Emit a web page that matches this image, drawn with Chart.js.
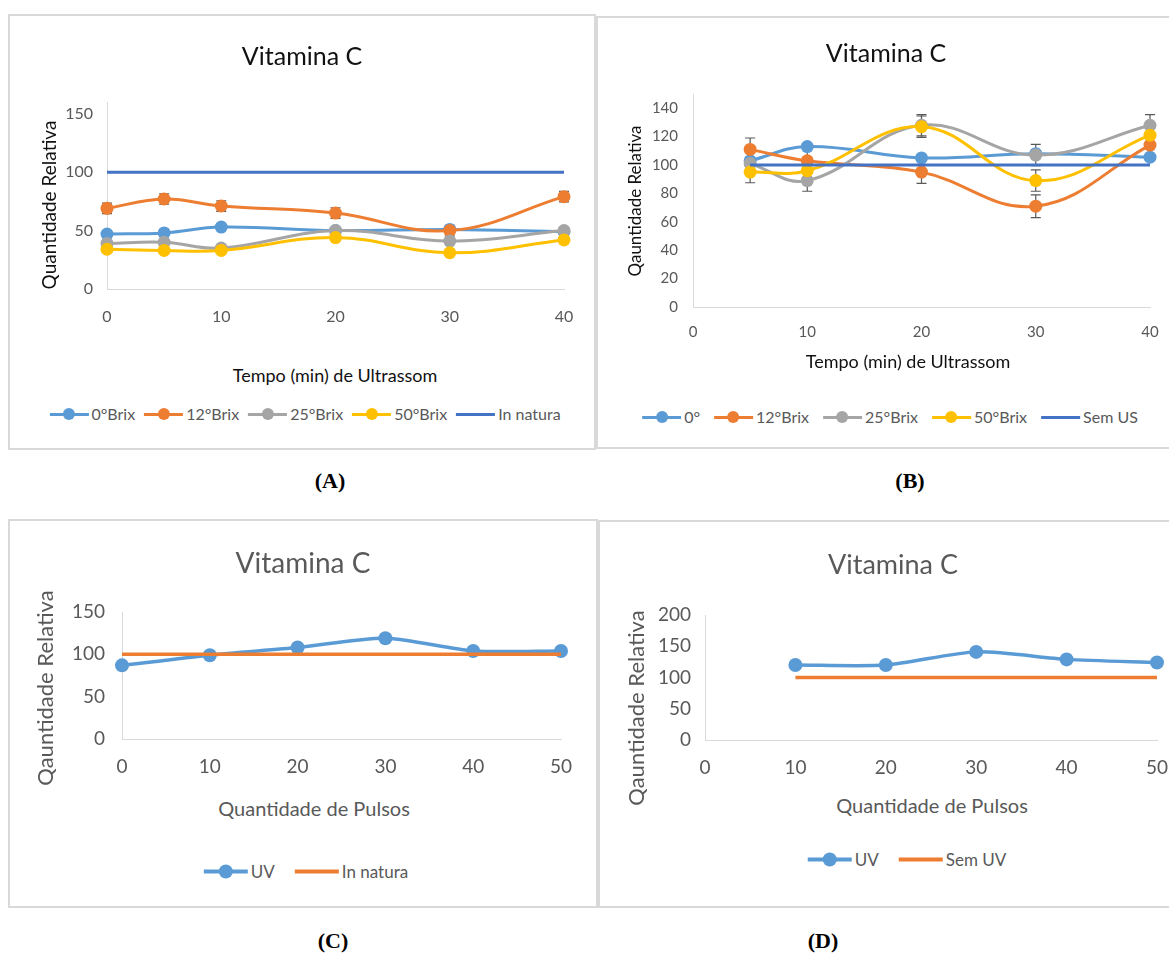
<!DOCTYPE html>
<html lang="pt">
<head>
<meta charset="utf-8">
<title>Vitamina C</title>
<script src="https://cdn.jsdelivr.net/npm/chart.js@4.4.1/dist/chart.umd.min.js"></script>
<style>
  html, body { margin: 0; padding: 0; background: #fff; width: 1169px; height: 954px; overflow: hidden; }
  body { position: relative; }
  .frame { position: absolute; border: 2px solid #d9d9d9; box-sizing: border-box; background: #fff; }
  canvas { position: absolute; }
  .t { position: absolute; white-space: nowrap; font-family: Lato, "Open Sans", sans-serif; transform: translate(-50%, -50%); line-height: 1; }
  .v { transform: translate(-50%, -50%) rotate(-90deg); }
  .legend { position: absolute; display: flex; align-items: center; transform: translate(-50%, -50%);
            white-space: nowrap; font-family: Lato, "Open Sans", sans-serif; color: #595959; line-height: 1; }
  .item { display: flex; align-items: center; margin: 0 5px; }
  .mk { position: relative; margin-right: 3px; }
  .mk .ln { position: absolute; left: 0; right: 0; top: 50%; }
  .mk .dt { position: absolute; left: 50%; top: 50%; border-radius: 50%; }
  .lab { position: absolute; font-family: "Liberation Serif", "Times New Roman", serif; font-weight: bold;
         font-size: 22px; transform: translate(-50%, -50%); line-height: 1; color: #000; }
</style>
</head>
<body>
<div class="frame" style="left:8px;top:14px;width:588px;height:436px;"></div>
<div class="frame" style="left:596px;top:16px;width:580px;height:433px;"></div>
<div class="frame" style="left:8px;top:519px;width:590px;height:389px;"></div>
<div class="frame" style="left:598px;top:520px;width:580px;height:388px;"></div>

<canvas id="chartA"></canvas>
<canvas id="chartB"></canvas>
<canvas id="chartC"></canvas>
<canvas id="chartD"></canvas>

<!-- (A) -->
<div class="t" style="left:302px;top:55px;font-size:25px;color:#111;">Vitamina C</div>
<div class="t v" style="left:48px;top:205px;font-size:19px;color:#111;">Quantidade Relativa</div>
<div class="t" style="left:335px;top:375px;font-size:18px;color:#111;">Tempo (min) de Ultrassom</div>
<div class="legend" id="legA" style="left:305px;top:414px;font-size:16px;"></div>
<div class="lab" style="left:330px;top:481px;">(A)</div>

<!-- (B) -->
<div class="t" style="left:886px;top:52px;font-size:25px;color:#111;">Vitamina C</div>
<div class="t v" style="left:634px;top:201px;font-size:17px;color:#111;">Qauntidade Relativa</div>
<div class="t" style="left:908px;top:361px;font-size:18px;color:#111;">Tempo (min) de Ultrassom</div>
<div class="legend" id="legB" style="left:890px;top:417px;font-size:16px;"></div>
<div class="lab" style="left:910px;top:481px;">(B)</div>

<!-- (C) -->
<div class="t" style="left:303px;top:562px;font-size:28px;color:#595959;">Vitamina C</div>
<div class="t v" style="left:45px;top:688px;font-size:22px;color:#595959;">Qauntidade Relativa</div>
<div class="t" style="left:314px;top:808px;font-size:20px;color:#595959;">Quantidade de Pulsos</div>
<div class="legend" id="legC" style="left:306px;top:871px;font-size:17px;"></div>
<div class="lab" style="left:333px;top:941px;">(C)</div>

<!-- (D) -->
<div class="t" style="left:893px;top:563px;font-size:27px;color:#595959;">Vitamina C</div>
<div class="t v" style="left:636px;top:708px;font-size:22px;color:#595959;">Qauntidade Relativa</div>
<div class="t" style="left:932px;top:805px;font-size:20px;color:#595959;">Quantidade de Pulsos</div>
<div class="legend" id="legD" style="left:907px;top:859px;font-size:17px;"></div>
<div class="lab" style="left:823px;top:941px;">(D)</div>

<script>
// ---- (A) tempo de ultrassom, amostras por °Brix ----
const tempoA   = [0, 5, 10, 20, 30, 40];
const brix0A   = [47, 48, 53, 50, 51, 49];
const brix12A  = [69, 77, 71, 65, 50, 79];
const brix25A  = [39, 40, 35, 50, 41, 50];
const brix50A  = [34, 33, 33, 44, 31, 42];
const naturaA  = [100, 100, 100, 100, 100, 100];
const erro0A   = [2, 2, 2, 2, 2, 2];
const erro12A  = [4.5, 4.5, 4.5, 4.5, 4.5, 4.5];
const erro25A  = [2, 2, 2, 2, 2, 2];
const erro50A  = [2, 2, 2, 2, 2, 2];
const xTicksA  = [0, 10, 20, 30, 40];
const yTicksA  = [0, 50, 100, 150];

// ---- (B) tempo de ultrassom ----
const tempoB   = [5, 10, 20, 30, 40];
const brix0B   = [103, 113, 105, 108, 105.5];
const brix12B  = [111, 103, 95, 71, 114];
const brix25B  = [101, 89, 128, 107, 128];
const brix50B  = [95, 96, 127, 89, 121];
const semUS    = [100, 100, 100, 100, 100];
const erro12B  = [8, 8, 8, 8, 8];
const erro25B  = [7.5, 7.5, 7.5, 7.5, 7.5];
const erro50B  = [7.5, 7.5, 7.5, 7.5, 7.5];
const xTicksB  = [0, 10, 20, 30, 40];
const yTicksB  = [0, 20, 40, 60, 80, 100, 120, 140];

// ---- (C) quantidade de pulsos ----
const pulsosC  = [0, 10, 20, 30, 40, 50];
const uvC      = [87, 99, 108, 119, 104, 104];
const naturaC  = [100, 100, 100, 100, 100, 100];
const xTicksC  = [0, 10, 20, 30, 40, 50];
const yTicksC  = [0, 50, 100, 150];

// ---- (D) quantidade de pulsos ----
const pulsosD  = [10, 20, 30, 40, 50];
const uvD      = [120, 120, 141, 129, 124];
const semUV    = [100, 100, 100, 100, 100];
const xTicksD  = [0, 10, 20, 30, 40, 50];
const yTicksD  = [0, 50, 100, 150, 200];

const AZUL = '#5B9BD5', LARANJA = '#ED7D31', CINZA = '#A5A5A5', AMARELO = '#FFC000', AZUL_ESC = '#4472C4';
const FONTE = 'Lato, "Open Sans", sans-serif';

Chart.defaults.font.family = FONTE;

const pts = (xs, ys) => xs.map((x, i) => ({ x: x, y: ys[i] }));

// vertical error bars with caps, drawn underneath the series
const errorBars = {
  id: 'errorBars',
  beforeDatasetsDraw(chart) {
    const { ctx, scales: { x, y } } = chart;
    chart.data.datasets.forEach((ds, i) => {
      if (!ds.errors || !chart.isDatasetVisible(i)) return;
      ctx.save();
      ctx.strokeStyle = '#595959';
      ctx.lineWidth = 1.2;
      ds.data.forEach((p, j) => {
        const e = ds.errors[j];
        if (!e) return;
        const px = x.getPixelForValue(p.x);
        const top = y.getPixelForValue(p.y + e);
        const bot = y.getPixelForValue(p.y - e);
        ctx.beginPath();
        ctx.moveTo(px, top); ctx.lineTo(px, bot);
        ctx.moveTo(px - 5, top); ctx.lineTo(px + 5, top);
        ctx.moveTo(px - 5, bot); ctx.lineTo(px + 5, bot);
        ctx.stroke();
      });
      ctx.restore();
    });
  }
};

function serie(label, xs, ys, color, opts) {
  return Object.assign({
    label: label,
    data: pts(xs, ys),
    borderColor: color,
    backgroundColor: color,
    pointBackgroundColor: color,
    pointBorderColor: color,
    borderWidth: 3,
    pointRadius: 6.5,
    pointBorderWidth: 0,
    tension: 0.4,
    fill: false,
    clip: false
  }, opts || {});
}

// builds one panel; the plot area lands at [left,top]-[right,bottom] on the page
function painel(id, area, cfg) {
  const YW = 50, XH = 50, PL = 10, PT = 40, PR = 45;
  const canvas = document.getElementById(id);
  const left = area.left - YW - PL, top = area.top - PT;
  const w = area.right + PR - left, h = area.bottom + XH - top;
  canvas.width = w; canvas.height = h;
  canvas.style.left = left + 'px'; canvas.style.top = top + 'px';
  canvas.style.width = w + 'px'; canvas.style.height = h + 'px';

  const tickOpts = (size, pad) => ({
    color: '#595959', font: { family: FONTE, size: size }, padding: pad,
    autoSkip: false, maxRotation: 0, minRotation: 0
  });
  const border = { display: true, color: '#d9d9d9', width: 1 };

  return new Chart(canvas, {
    type: 'line',
    data: { datasets: cfg.datasets },
    options: {
      responsive: false,
      animation: false,
      events: [],
      layout: { padding: { left: PL, top: PT, right: PR, bottom: 0 } },
      plugins: { legend: { display: false }, title: { display: false }, tooltip: { enabled: false } },
      scales: {
        x: {
          type: 'linear', min: cfg.xMin, max: cfg.xMax,
          afterBuildTicks: s => { s.ticks = cfg.xTicks.map(v => ({ value: v })); },
          afterFit: s => { s.height = XH; },
          grid: { display: false, drawTicks: false },
          border: border,
          ticks: tickOpts(cfg.tickSize, cfg.xPad)
        },
        y: {
          type: 'linear', min: cfg.yMin, max: cfg.yMax,
          afterBuildTicks: s => { s.ticks = cfg.yTicks.map(v => ({ value: v })); },
          afterFit: s => { s.width = YW; },
          grid: { display: false, drawTicks: false },
          border: border,
          ticks: tickOpts(cfg.tickSize, cfg.yPad)
        }
      }
    },
    plugins: [errorBars]
  });
}

painel('chartA', { left: 107, top: 102, right: 564, bottom: 289 }, {
  xMin: 0, xMax: 40, yMin: 0, yMax: 160, xTicks: xTicksA, yTicks: yTicksA,
  tickSize: 16, xPad: 18, yPad: 14,
  datasets: [
    serie('0°Brix', tempoA, brix0A, AZUL, { errors: erro0A, order: 5 }),
    serie('12°Brix', tempoA, brix12A, LARANJA, { errors: erro12A, order: 4 }),
    serie('25°Brix', tempoA, brix25A, CINZA, { errors: erro25A, order: 3 }),
    serie('50°Brix', tempoA, brix50A, AMARELO, { errors: erro50A, order: 2 }),
    serie('In natura', tempoA, naturaA, AZUL_ESC, { pointRadius: 0, tension: 0, order: 1 })
  ]
});

painel('chartB', { left: 693, top: 94, right: 1150, bottom: 307 }, {
  xMin: 0, xMax: 40, yMin: 0, yMax: 150, xTicks: xTicksB, yTicks: yTicksB,
  tickSize: 15, xPad: 16, yPad: 15,
  datasets: [
    serie('0°', tempoB, brix0B, AZUL, { order: 5 }),
    serie('12°Brix', tempoB, brix12B, LARANJA, { errors: erro12B, order: 4 }),
    serie('25°Brix', tempoB, brix25B, CINZA, { errors: erro25B, order: 3 }),
    serie('50°Brix', tempoB, brix50B, AMARELO, { errors: erro50B, order: 2 }),
    serie('Sem US', tempoB, semUS, AZUL_ESC, { pointRadius: 0, tension: 0, order: 1 })
  ]
});

painel('chartC', { left: 122, top: 612, right: 561, bottom: 739 }, {
  xMin: 0, xMax: 50, yMin: 0, yMax: 150, xTicks: xTicksC, yTicks: yTicksC,
  tickSize: 19, xPad: 16, yPad: 17,
  datasets: [
    serie('UV', pulsosC, uvC, AZUL, { borderWidth: 3.5, pointRadius: 7, tension: 0.25, order: 2 }),
    serie('In natura', pulsosC, naturaC, LARANJA, { borderWidth: 3.5, pointRadius: 0, tension: 0, order: 1 })
  ]
});

painel('chartD', { left: 705, top: 615, right: 1157, bottom: 740 }, {
  xMin: 0, xMax: 50, yMin: 0, yMax: 200, xTicks: xTicksD, yTicks: yTicksD,
  tickSize: 19, xPad: 16, yPad: 14,
  datasets: [
    serie('UV', pulsosD, uvD, AZUL, { borderWidth: 3.5, pointRadius: 7, tension: 0.25, order: 2 }),
    serie('Sem UV', pulsosD, semUV, LARANJA, { borderWidth: 3.5, pointRadius: 0, tension: 0, order: 1 })
  ]
});

// HTML legends: line marker, with a dot for series that carry markers
function legenda(id, itens, m) {
  const box = document.getElementById(id);
  itens.forEach(([texto, cor, ponto]) => {
    const it = document.createElement('div');
    it.className = 'item';
    it.style.margin = '0 ' + m.gap + 'px';
    const mk = document.createElement('div');
    mk.className = 'mk';
    mk.style.width = m.len + 'px';
    mk.style.height = (m.dot + 2) + 'px';
    const ln = document.createElement('div');
    ln.className = 'ln';
    ln.style.height = m.lw + 'px';
    ln.style.marginTop = (-m.lw / 2) + 'px';
    ln.style.background = cor;
    mk.appendChild(ln);
    if (ponto) {
      const dt = document.createElement('div');
      dt.className = 'dt';
      dt.style.width = dt.style.height = m.dot + 'px';
      dt.style.margin = (-m.dot / 2) + 'px 0 0 ' + (-m.dot / 2) + 'px';
      dt.style.background = cor;
      mk.appendChild(dt);
    }
    const tx = document.createElement('span');
    tx.textContent = texto;
    it.appendChild(mk);
    it.appendChild(tx);
    box.appendChild(it);
  });
}

legenda('legA', [['0°Brix', AZUL, true], ['12°Brix', LARANJA, true], ['25°Brix', CINZA, true],
                 ['50°Brix', AMARELO, true], ['In natura', AZUL_ESC, false]], { len: 39, lw: 3, dot: 12, gap: 4.5 });
legenda('legB', [['0°', AZUL, true], ['12°Brix', LARANJA, true], ['25°Brix', CINZA, true],
                 ['50°Brix', AMARELO, true], ['Sem US', AZUL_ESC, false]], { len: 39, lw: 3, dot: 12, gap: 7 });
legenda('legC', [['UV', AZUL, true], ['In natura', LARANJA, false]], { len: 44, lw: 4, dot: 14, gap: 10 });
legenda('legD', [['UV', AZUL, true], ['Sem UV', LARANJA, false]], { len: 44, lw: 4, dot: 14, gap: 10 });
</script>
</body>
</html>
